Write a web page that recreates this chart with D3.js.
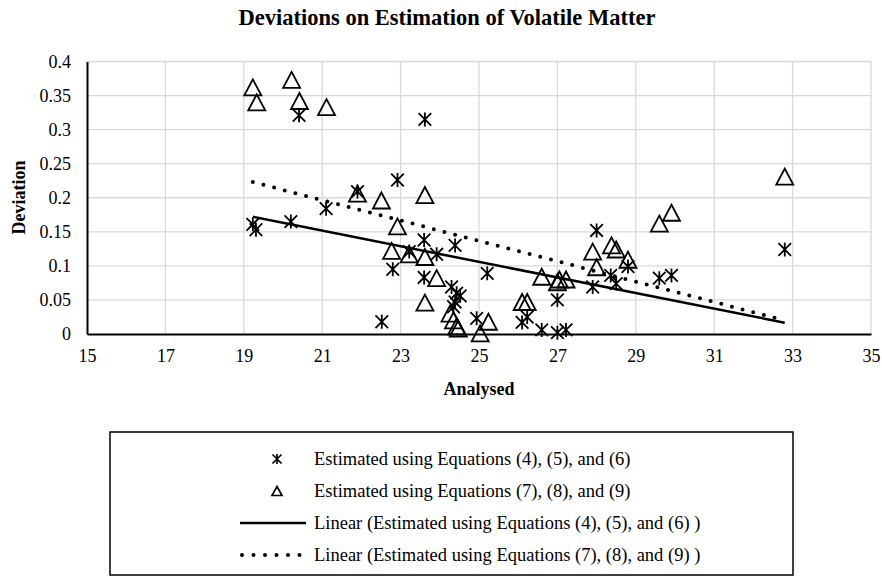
<!DOCTYPE html>
<html><head><meta charset="utf-8">
<script src="https://cdn.jsdelivr.net/npm/d3@7"></script>
<style>body{margin:0;background:#fff}svg{display:block}text{font-family:"Liberation Serif","Times New Roman",serif;fill:#000}</style>
</head><body><svg id="c" width="882" height="577"></svg>
<script>
const title = "Deviations on Estimation of Volatile Matter";
const xTicks = [15,17,19,21,23,25,27,29,31,33,35];
const yTicks = [0,0.05,0.1,0.15,0.2,0.25,0.3,0.35,0.4];
const yTickLabels = ["0","0.05","0.1","0.15","0.2","0.25","0.3","0.35","0.4"];
const seriesNames = ["Estimated using Equations (4), (5), and (6)","Estimated using Equations (7), (8), and (9)",
  "Linear (Estimated using Equations (4), (5), and (6) )","Linear (Estimated using Equations (7), (8), and (9) )"];
// series A (asterisks): [analysed, deviation]
const seriesA = [[19.23,0.161],[19.31,0.153],[20.2,0.165],[20.41,0.321],[21.1,0.184],[21.9,0.209],[22.52,0.018],
 [22.8,0.095],[22.92,0.226],[23.22,0.121],[23.6,0.138],[23.6,0.083],[23.62,0.315],[23.92,0.117],[24.3,0.069],
 [24.39,0.130],[24.43,0.060],[24.52,0.056],[24.39,0.047],[24.35,0.040],[24.94,0.023],[25.21,0.089],[26.1,0.017],
 [26.23,0.025],[26.6,0.006],[27.0,0.050],[27.0,0.002],[27.22,0.006],[27.9,0.069],[28.0,0.152],[28.36,0.086],
 [28.5,0.074],[28.8,0.099],[29.6,0.082],[29.91,0.086],[32.8,0.124]];
// series B (triangles)
const seriesB = [[19.23,0.362],[19.33,0.340],[20.22,0.373],[20.42,0.342],[21.11,0.333],[21.9,0.206],[22.51,0.196],
 [22.77,0.122],[22.92,0.158],[23.22,0.117],[23.62,0.204],[23.62,0.113],[23.62,0.046],[23.92,0.082],[24.26,0.030],
 [24.35,0.020],[24.43,0.011],[24.47,0.008],[25.03,0.001],[25.24,0.018],[26.1,0.047],[26.23,0.047],[26.6,0.084],
 [27.0,0.076],[27.05,0.080],[27.22,0.080],[27.9,0.121],[28.0,0.098],[28.38,0.130],[28.5,0.124],[28.8,0.109],
 [29.6,0.162],[29.91,0.178],[32.8,0.231]];
// trend lines: [x, y] endpoints
const trendA = [[19.23,0.172],[32.8,0.0166]];
const trendB = [[19.23,0.223],[32.8,0.020]];

const svg = d3.select("#c");
const x = d3.scaleLinear().domain([15,35]).range([87,871]);
const y = d3.scaleLinear().domain([0,0.4]).range([334,61.5]);

svg.append("text").attr("x",447).attr("y",25).attr("text-anchor","middle")
  .attr("font-weight","bold").attr("font-size",22.5).text(title);

// gridlines
const g = svg.append("g");
g.selectAll(".gy").data(yTicks.slice(1)).join("line").attr("x1",87).attr("x2",871)
  .attr("y1",d=>y(d)).attr("y2",d=>y(d)).attr("stroke","#d9d9d9").attr("stroke-width",1.3);
g.selectAll(".gx").data(xTicks.slice(1)).join("line").attr("y1",61.5).attr("y2",334)
  .attr("x1",d=>x(d)).attr("x2",d=>x(d)).attr("stroke","#d9d9d9").attr("stroke-width",1.3);

// axes
const xa = svg.append("g").attr("transform","translate(0,334)")
  .call(d3.axisBottom(x).tickValues(xTicks).tickSize(0).tickPadding(15).tickFormat(d3.format("d")));
xa.select(".domain").attr("stroke","#000").attr("stroke-width",2);
xa.selectAll("text").attr("font-size",18).style("font-family","Liberation Serif");
const ya = svg.append("g").attr("transform","translate(87,0)")
  .call(d3.axisLeft(y).tickValues(yTicks).tickSize(0).tickPadding(16).tickFormat((d,i)=>yTickLabels[i]));
ya.select(".domain").attr("stroke","#000").attr("stroke-width",2);
ya.selectAll("text").attr("font-size",18).style("font-family","Liberation Serif");

svg.append("text").attr("x",479).attr("y",395).attr("text-anchor","middle")
  .attr("font-weight","bold").attr("font-size",18).text("Analysed");
svg.append("text").attr("transform","translate(25,197.5) rotate(-90)").attr("text-anchor","middle")
  .attr("font-weight","bold").attr("font-size",18).text("Deviation");

// marker paths
const star = (s,v) => `M${-s},${-s}L${s},${s}M${-s},${s}L${s},${-s}M0,${-v}L0,${v}`;
const tri = (w,h) => `M0,${-h/2}L${w/2},${h/2}L${-w/2},${h/2}Z`;

const line = d3.line().x(d=>x(d[0])).y(d=>y(d[1]));
// points
svg.append("g").selectAll("path").data(seriesB).join("path")
  .attr("transform",d=>`translate(${x(d[0])},${y(d[1])})`).attr("d",tri(17,16))
  .attr("fill","none").attr("stroke","#000").attr("stroke-width",1.8);
svg.append("g").selectAll("path").data(seriesA).join("path")
  .attr("transform",d=>`translate(${x(d[0])},${y(d[1])})`).attr("d",star(6.3,7))
  .attr("fill","none").attr("stroke","#000").attr("stroke-width",1.8);
// trendlines
svg.append("path").datum(trendA).attr("d",line).attr("fill","none").attr("stroke","#000").attr("stroke-width",2.5);
svg.append("path").datum(trendB).attr("d",line).attr("fill","none").attr("stroke","#000")
  .attr("stroke-width",4).attr("stroke-linecap","round").attr("stroke-dasharray","0 11");

// legend
const lg = svg.append("g");
lg.append("rect").attr("x",110).attr("y",432).attr("width",683).attr("height",143)
  .attr("fill","#fff").attr("stroke","#000").attr("stroke-width",1.5);
const rows = [459,491,523,555];
const items = lg.selectAll("g").data(seriesNames).join("g").attr("transform",(d,i)=>`translate(0,${rows[i]})`);
items.append("text").attr("x",314).attr("y",6).attr("font-size",18.5).text(d=>d);
lg.append("path").attr("transform",`translate(277,${rows[0]})`).attr("d",star(4.5,5))
  .attr("fill","none").attr("stroke","#000").attr("stroke-width",1.7);
lg.append("path").attr("transform",`translate(277,${rows[1]})`).attr("d",tri(10,9))
  .attr("fill","none").attr("stroke","#000").attr("stroke-width",1.7);
lg.append("line").attr("x1",240).attr("x2",306).attr("y1",rows[2]).attr("y2",rows[2])
  .attr("stroke","#000").attr("stroke-width",2.5);
lg.append("line").attr("x1",242).attr("x2",302).attr("y1",rows[3]).attr("y2",rows[3])
  .attr("stroke","#000").attr("stroke-width",4).attr("stroke-linecap","round").attr("stroke-dasharray","0 11.5");
</script></body></html>
